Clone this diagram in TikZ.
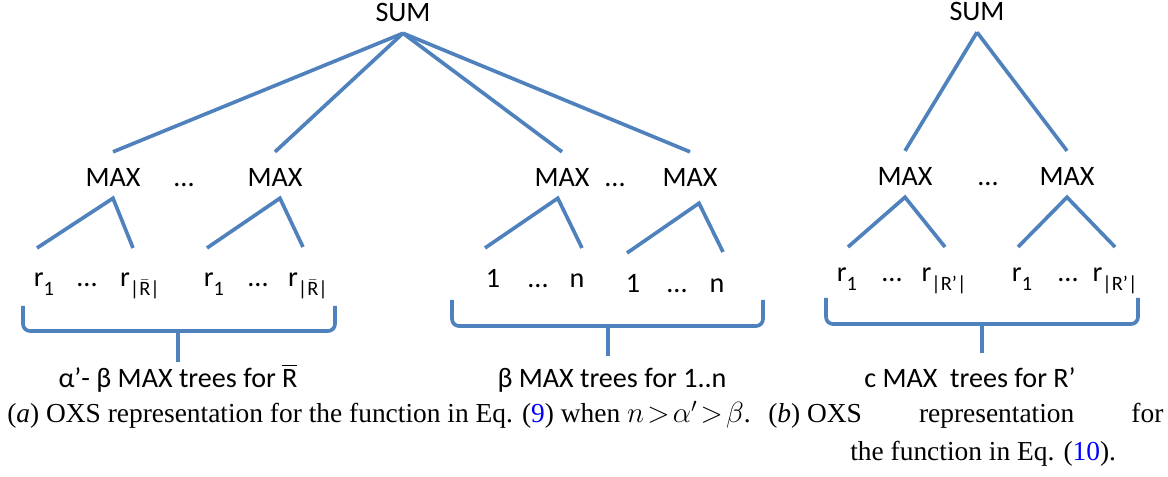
\documentclass[tikz,border=0pt]{standalone}
\usepackage{amsmath}
\usepackage{fontspec}
\setmainfont{Liberation Serif}
\newfontfamily\lblfont{Carlito}
\usepackage{tikz}
\definecolor{treeblue}{RGB}{79,129,189}
\newcommand{\lsub}[1]{\raisebox{-0.3em}{\fontsize{14.5}{14.5}\selectfont #1}}

\begin{document}
\begin{tikzpicture}[
    x=0.025cm, y=-0.025cm,
    every node/.style={font=\lblfont\fontsize{20}{24}\selectfont, inner sep=0pt, anchor=base},
    op/.style={inner xsep=0pt, inner ysep=7.8pt, text height=17pt, text depth=0pt},
    e/.style={treeblue, line width=2.6pt},
    brc/.style={treeblue, line width=2.6pt, rounded corners=5pt},
    captxt/.style={font=\fontsize{19.5}{24}\selectfont, anchor=base west},
  ]
  \useasboundingbox (0,0) rectangle (1168,477);
  % left picture
  \node[op] (sumL) at (403,22) {SUM};
  \node[op] (maxA) at (113,187) {MAX};
  \node (dAB) at (184,187) {...};
  \node[op] (maxB) at (275,187) {MAX};
  \node[op] (maxC) at (562,187) {MAX};
  \node (dCD) at (615,187) {...};
  \node[op] (maxD) at (690,187) {MAX};
  \draw[e] (sumL.south) -- (maxA.north);
  \draw[e] (sumL.south) -- (maxB.north);
  \draw[e] (sumL.south) -- (maxC.north);
  \draw[e] (sumL.south) -- (maxD.north);
  \coordinate (a1) at (37,248);
  \coordinate (a2) at (133,248);
  \coordinate (b1) at (207,248);
  \coordinate (b2) at (303,247);
  \coordinate (c1) at (485,248);
  \coordinate (c2) at (582,248);
  \coordinate (d1) at (627,253);
  \coordinate (d2) at (723,252);
  \draw[e] (a1) -- (maxA.south) -- (a2);
  \draw[e] (b1) -- ([xshift=3.5pt]maxB.south) -- (b2);
  \draw[e] (c1) -- ([xshift=-3pt]maxC.south) -- (c2);
  \draw[e] (d1) -- ([shift={(9,5)}]maxD.south) -- (d2);
  \node (rA1) at (44,287) {r\lsub{1}};
  \node (rAd) at (87,287) {...};
  \node (rAn) at (140,287) {r\lsub{|$\bar{\text{R}}$|}};
  \node (rB1) at (214,287) {r\lsub{1}};
  \node (rBd) at (258,287) {...};
  \node (rBn) at (308,287) {r\lsub{|$\bar{\text{R}}$|}};
  \node (nC1) at (493,288) {1};
  \node (nCd) at (538,288) {...};
  \node (nCn) at (577,288) {n};
  \node (nD1) at (633,293) {1};
  \node (nDd) at (677,293) {...};
  \node (nDn) at (717,293) {n};
  \draw[brc] (23,306) |- (178,331) -| (335,306);
  \draw[brc] (178,331) -- (178,362);
  \draw[brc] (452,300) |- (608,326) -| (763,300);
  \draw[brc] (608,326) -- (608,356);
  \node (lblA) at (178,388) {α’- β MAX trees for $\overline{\text{R}}$};
  \node (lblB) at (612,388) {β MAX trees for 1..n};
  % right picture
  \node[op] (sumR) at (977,21) {SUM};
  \node[op] (maxE) at (905,186) {MAX};
  \node (dEF) at (988,186) {...};
  \node[op] (maxF) at (1067,186) {MAX};
  \draw[e] (sumR.south) -- (maxE.north);
  \draw[e] (sumR.south) -- (maxF.north);
  \coordinate (e1) at (848,247);
  \coordinate (e2) at (945,247);
  \coordinate (f1) at (1018,247);
  \coordinate (f2) at (1115,247);
  \draw[e] (e1) -- (maxE.south) -- (e2);
  \draw[e] (f1) -- (maxF.south) -- (f2);
  \node (rE1) at (847,282) {r\lsub{1}};
  \node (rEd) at (892,282) {...};
  \node (rEn) at (944,282) {r\lsub{|R’|}};
  \node (rF1) at (1022,282) {r\lsub{1}};
  \node (rFd) at (1068,282) {...};
  \node (rFn) at (1115,282) {r\lsub{|R’|}};
  \draw[brc] (826,298) |- (982,324) -| (1138,298);
  \draw[brc] (982,324) -- (982,353);
  \node (lblC) at (970,388) {c MAX~ trees for R’};
  % captions
  \node[captxt] (capA) at (7,423) {(\textit{a}) OXS representation for the function in Eq. (\textcolor{blue}{9}) when $n\!>\!\alpha'\!>\!\beta$.};
  \node[captxt] (capB) at (768,423) {\makebox[281pt][l]{(\textit{b}) OXS\hfill representation\hfill for}};
  \node[captxt] (capB2) at (850,460) {the function in Eq. (\textcolor{blue}{10}).};
\end{tikzpicture}
\end{document}
